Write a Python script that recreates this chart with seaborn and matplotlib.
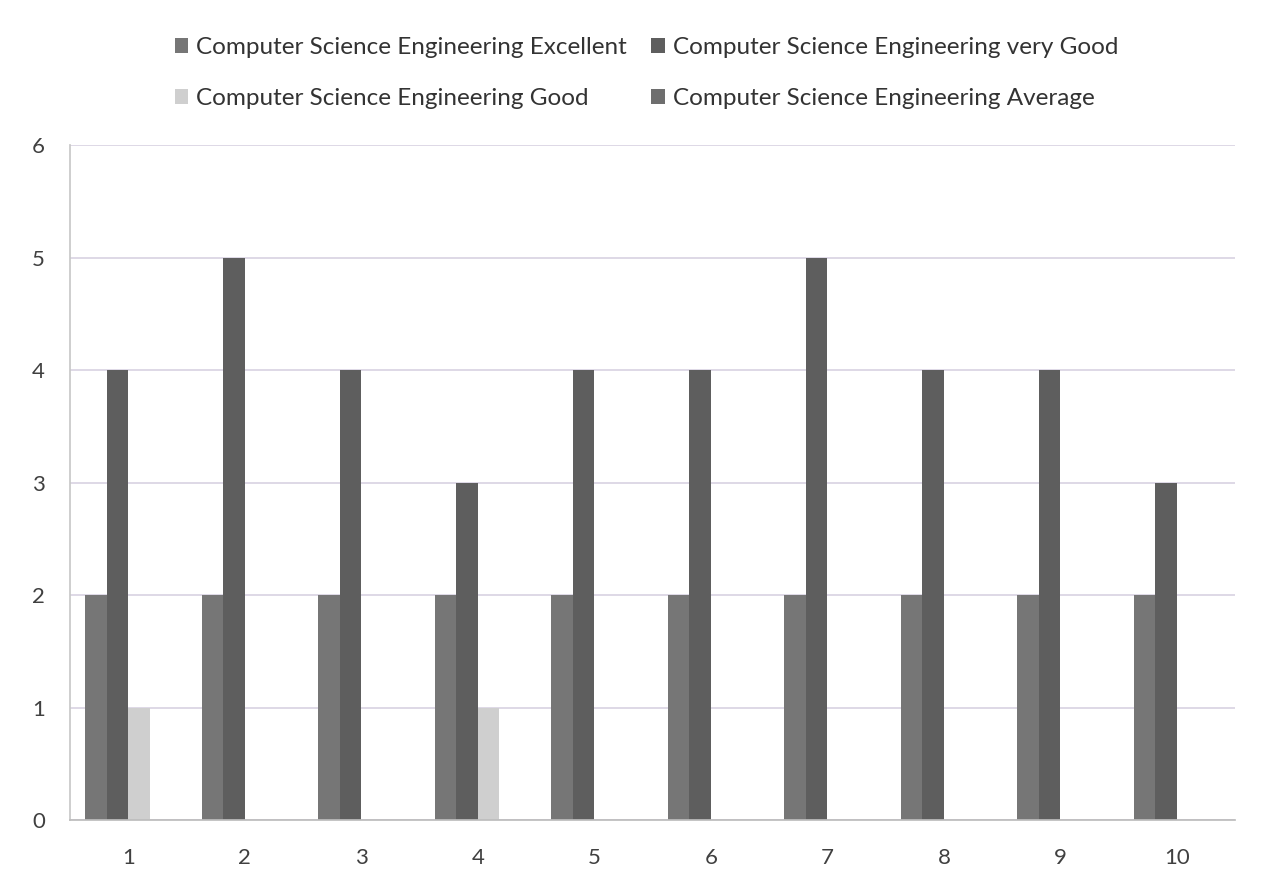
import matplotlib
matplotlib.use("Agg")
import matplotlib.pyplot as plt
import seaborn as sns
import pandas as pd
from matplotlib.ticker import FixedLocator

categories = ["1", "2", "3", "4", "5", "6", "7", "8", "9", "10"]
series_names = [
    "Computer Science Engineering Excellent",
    "Computer Science Engineering very Good",
    "Computer Science Engineering Good",
    "Computer Science Engineering Average",
]
excellent = [2, 2, 2, 2, 2, 2, 2, 2, 2, 2]
very_good = [4, 5, 4, 3, 4, 4, 5, 4, 4, 3]
good = [1, 0, 0, 1, 0, 0, 0, 0, 0, 0]
average = [0, 0, 0, 0, 0, 0, 0, 0, 0, 0]

rows = []
for name, vals in zip(series_names, [excellent, very_good, good, average]):
    for c, v in zip(categories, vals):
        rows.append({"cat": c, "series": name, "value": v})
df = pd.DataFrame(rows)

colors = ["#767676", "#5e5e5e", "#cfcfcf", "#6e6e6e"]

sns.set_theme(style="white")
plt.rcParams["font.family"] = ["Lato", "DejaVu Sans"]

fig = plt.figure(figsize=(12.63, 8.8), dpi=100)
ax = fig.add_axes([0.0554, 0.068, 0.9226, 0.767])

sns.barplot(data=df, x="cat", y="value", hue="series", order=categories,
            hue_order=series_names, palette=colors, width=0.74,
            saturation=1, ax=ax, legend=True, edgecolor="none")

ax.set_ylim(0, 6)
ax.set_xlim(-0.5, 9.5)
ax.set_yticks(range(0, 7))
ax.yaxis.grid(True, color="#d8d2e2", linewidth=1.2)
ax.set_axisbelow(True)
ax.set_xlabel("")
ax.set_ylabel("")
for s in ["top", "right"]:
    ax.spines[s].set_visible(False)
ax.spines["left"].set_color("#c8c8c8")
ax.spines["bottom"].set_color("#bdbdbd")
ax.tick_params(axis="both", labelsize=16, colors="#404040", length=0)
ax.tick_params(axis="x", pad=20)
ax.tick_params(axis="y", pad=18)
ax.xaxis.set_minor_locator(FixedLocator([i + 0.5 for i in range(-1, 10)]))
ax.tick_params(axis="x", which="minor", length=6, color="#bdbdbd")

handles, labels = ax.get_legend_handles_labels()
ax.get_legend().remove()
order = [0, 2, 1, 3]
fig.legend([handles[i] for i in order], [labels[i] for i in order],
           loc="upper center", bbox_to_anchor=(0.512, 0.983), ncol=2,
           frameon=False, fontsize=17.5, handlelength=0.55, handleheight=0.55,
           handletextpad=0.35, columnspacing=1.0, labelspacing=1.25,
           labelcolor="#333333")

fig.savefig("out.png", dpi=100)
